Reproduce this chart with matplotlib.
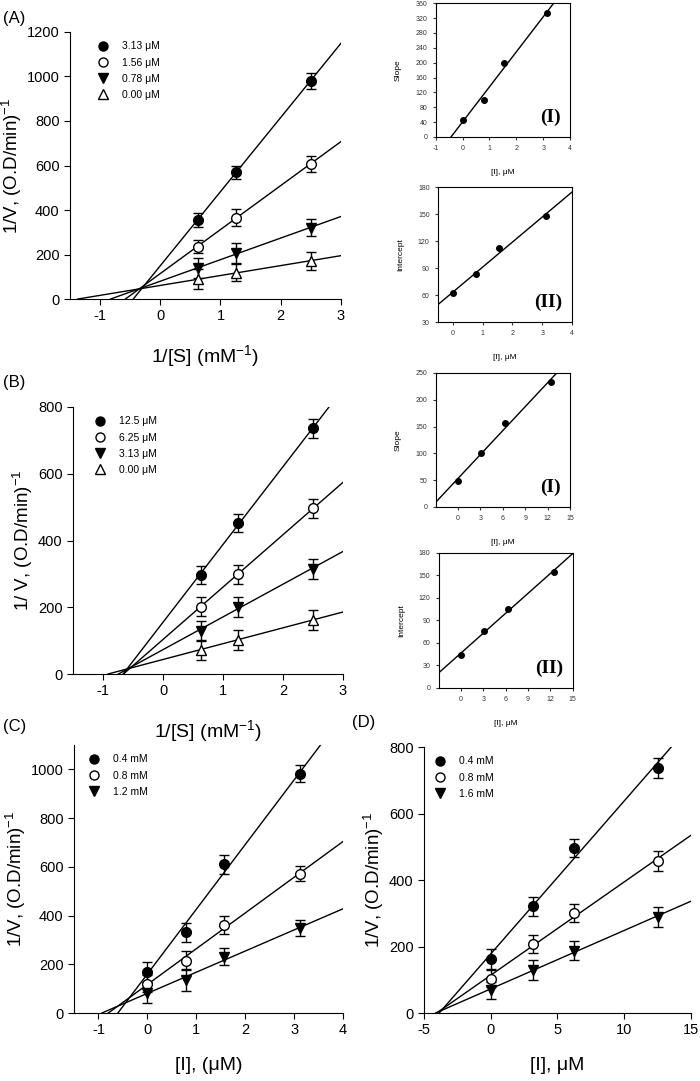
import numpy as np
import matplotlib.pyplot as plt
from matplotlib.lines import Line2D

plt.rcParams['font.family'] = ['Liberation Sans', 'DejaVu Sans']
plt.rcParams['mathtext.fontset'] = 'custom'
plt.rcParams['mathtext.rm'] = 'Liberation Sans'
plt.rcParams['mathtext.it'] = 'Liberation Sans:italic'
plt.rcParams['mathtext.default'] = 'regular'
plt.rcParams['axes.unicode_minus'] = False

# ---- data ----
# (A) Lineweaver-Burk, inhibitor 1
a_x = [0.625, 1.25, 2.5]
a_labels = ['3.13 μM', '1.56 μM', '0.78 μM', '0.00 μM']
a_y = [[355, 570, 981], [235, 366, 607], [138, 205, 321], [88, 118, 172]]
a_err = [[30, 30, 35], [30, 38, 35], [45, 45, 38], [45, 38, 40]]

# (A) secondary plots
ai_x = [0, 0.78, 1.56, 3.13]
ai_slope = [45, 100, 200, 333]
ai_icpt = [62, 83, 112, 148]

# (B) Lineweaver-Burk, inhibitor 2
b_x = [0.625, 1.25, 2.5]
b_labels = ['12.5 μM', '6.25 μM', '3.13 μM', '0.00 μM']
b_y = [[297, 452, 736], [202, 299, 496], [130, 202, 316], [73, 103, 162]]
b_err = [[27, 28, 28], [28, 28, 28], [30, 30, 30], [30, 30, 30]]

# (B) secondary plots
bi_x = [0, 3.13, 6.25, 12.5]
bi_slope = [48, 100, 157, 234]
bi_icpt = [44, 76, 105, 155]

# (C) Dixon plot, inhibitor 1
c_x = [0, 0.78, 1.56, 3.13]
c_labels = ['0.4 mM', '0.8 mM', '1.2 mM']
c_y = [[169, 331, 610, 982], [121, 215, 362, 572], [83, 135, 231, 348]]
c_err = [[40, 38, 38, 35], [35, 38, 38, 30], [40, 45, 35, 32]]

# (D) Dixon plot, inhibitor 2
d_x = [0, 3.13, 6.25, 12.5]
d_labels = ['0.4 mM', '0.8 mM', '1.6 mM']
d_y = [[163, 321, 496, 738], [103, 208, 301, 457], [68, 130, 188, 289]]
d_err = [[30, 28, 28, 30], [25, 28, 28, 30], [25, 30, 30, 30]]

markers = [('o', 'black'), ('o', 'white'), ('v', 'black'), ('^', 'white')]
ylab = '1/V, (O.D/min)$^{-1}$'


def main_panel(ax, x, ys, errs, labels, xlim, ylim, xticks, yticks, xlabel, ylabel,
               leg_x=0.05):
    for i, (y, e) in enumerate(zip(ys, errs)):
        m, b = np.polyfit(x, y, 1)
        x0 = max(xlim[0], -b / m)
        xx = np.array([x0, xlim[1]])
        ax.plot(xx, m * xx + b, color='black', lw=1, zorder=2)
        ax.errorbar(x, y, yerr=e, fmt='none', ecolor='black', elinewidth=1,
                    capsize=3.5, capthick=1, zorder=3)
        mk, fc = markers[i]
        ax.plot(x, y, linestyle='none', marker=mk, ms=7, mfc=fc, mec='black',
                mew=1, zorder=4)
    handles = [Line2D([], [], linestyle='none', marker=markers[i][0], ms=6.5,
                      mfc=markers[i][1], mec='black', mew=1)
               for i in range(len(labels))]
    ax.legend(handles, labels, loc='upper left', bbox_to_anchor=(leg_x, 1.0),
              frameon=False, fontsize=7.5, handletextpad=0.8, labelspacing=0.6)
    ax.set_xlim(xlim)
    ax.set_ylim(ylim)
    ax.set_xticks(xticks)
    ax.set_yticks(yticks)
    ax.spines['top'].set_visible(False)
    ax.spines['right'].set_visible(False)
    ax.tick_params(direction='out', length=4, labelsize=10.5)
    ax.set_xlabel(xlabel, fontsize=14, labelpad=14)
    ax.set_ylabel(ylabel, fontsize=13.5, labelpad=2)


def inset(ax, x, y, xlim, ylim, xticks, yticks, ylabel, tag):
    m, b = np.polyfit(x, y, 1)
    xx = np.array(xlim)
    ax.plot(xx, m * xx + b, color='black', lw=1)
    ax.plot(x, y, 'o', color='black', ms=4)
    ax.set_xlim(xlim)
    ax.set_ylim(ylim)
    ax.set_xticks(xticks)
    ax.set_yticks(yticks)
    ax.tick_params(direction='out', length=2.5, labelsize=5, colors='#333333')
    ax.set_xlabel('[I], μM', fontsize=6, labelpad=12)
    ax.set_ylabel(ylabel, fontsize=6, labelpad=10)
    ax.text(0.93, 0.08, tag, transform=ax.transAxes, ha='right', va='bottom',
            fontsize=14, fontweight='bold', family='Liberation Serif')


fig = plt.figure(figsize=(7, 10.81), dpi=100)

axA = fig.add_axes([0.100, 0.7234, 0.387, 0.247])
main_panel(axA, a_x, a_y, a_err, a_labels, (-1.5, 3), (0, 1200),
           [-1, 0, 1, 2, 3], range(0, 1201, 200), '1/[S] (mM$^{-1}$)', ylab,
           leg_x=0.05)

axAI = fig.add_axes([0.6224, 0.8733, 0.192, 0.1237])
inset(axAI, ai_x, ai_slope, (-1, 4), (0, 360), range(-1, 5), range(0, 361, 40),
      'Slope', '(I)')
axAII = fig.add_axes([0.6257, 0.7021, 0.1914, 0.1249])
inset(axAII, ai_x, ai_icpt, (-0.5, 4), (30, 180), range(0, 5), range(30, 181, 30),
      'Intercept', '(II)')

axB = fig.add_axes([0.1043, 0.3765, 0.3857, 0.247])
main_panel(axB, b_x, b_y, b_err, b_labels, (-1.5, 3), (0, 800),
           [-1, 0, 1, 2, 3], range(0, 801, 200), '1/[S] (mM$^{-1}$)',
           '1/ V, (O.D/min)$^{-1}$', leg_x=0.026)

axBI = fig.add_axes([0.6224, 0.531, 0.192, 0.124])
inset(axBI, bi_x, bi_slope, (-3, 15), (0, 250), range(0, 16, 3), range(0, 251, 50),
      'Slope', '(I)')
axBII = fig.add_axes([0.627, 0.3636, 0.191, 0.1249])
inset(axBII, bi_x, bi_icpt, (-3, 15), (0, 180), range(0, 16, 3), range(0, 181, 30),
      'Intercept', '(II)')

axC = fig.add_axes([0.1057, 0.0629, 0.3843, 0.248])
main_panel(axC, c_x, c_y, c_err, c_labels, (-1.5, 4), (0, 1100),
           [-1, 0, 1, 2, 3, 4], range(0, 1001, 200), '[I], (μM)', ylab,
           leg_x=0.0)

axD = fig.add_axes([0.6057, 0.0629, 0.3814, 0.246])
main_panel(axD, d_x, d_y, d_err, d_labels, (-5, 15), (0, 800),
           [-5, 0, 5, 10, 15], range(0, 801, 200), '[I], μM', ylab,
           leg_x=-0.015)

for lbl, px, py in [('(A)', 3, 18), ('(B)', 3, 383), ('(C)', 3, 727), ('(D)', 352, 723)]:
    fig.text(px / 700, 1 - py / 1081, lbl, fontsize=12, va='center', ha='left')

fig.savefig('out.png', dpi=100)
